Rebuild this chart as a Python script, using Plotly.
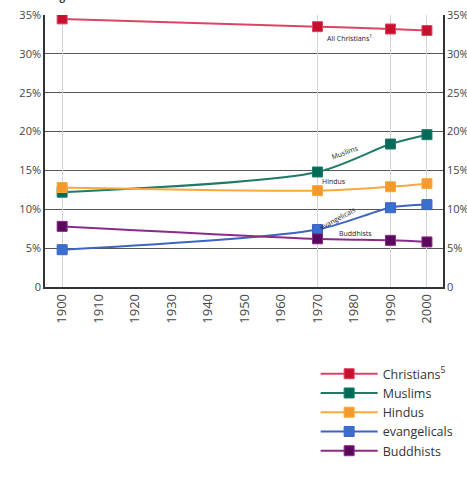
import plotly.graph_objects as go

years = [1900, 1970, 1990, 2000]
christians = [34.5, 33.5, 33.2, 33.0]
muslims = [12.2, 14.8, 18.4, 19.6]
hindus = [12.8, 12.4, 12.9, 13.3]
evangelicals = [4.8, 7.4, 10.2, 10.6]
buddhists = [7.8, 6.2, 6.0, 5.8]

series = [
    ("Christians<sup>5</sup>", christians, "#dc4466", "#c8102e"),
    ("Muslims", muslims, "#1f7a68", "#006b58"),
    ("Hindus", hindus, "#f7a940", "#f59a2a"),
    ("evangelicals", evangelicals, "#3f63c0", "#3a6fd0"),
    ("Buddhists", buddhists, "#8a2a8a", "#5a0a5a"),
]

tick_years = list(range(1900, 2001, 10))
y_ticks = [0, 5, 10, 15, 20, 25, 30, 35]
y_labels = ["0", "5%", "10%", "15%", "20%", "25%", "30%", "35%"]

font = "Open Sans, DejaVu Sans, sans-serif"
fig = go.Figure()
for name, vals, lc, mc in series:
    fig.add_trace(go.Scatter(
        x=years, y=vals, name=name, mode="lines+markers",
        line=dict(color=lc, width=2, shape="spline", smoothing=0.8),
        marker=dict(symbol="square", size=10, color=mc, line=dict(color=lc, width=1)),
    ))
# invisible trace for right axis / vertical grid axis
fig.add_trace(go.Scatter(x=years, y=christians, xaxis="x2", yaxis="y2",
                         mode="markers", marker=dict(opacity=0), showlegend=False, hoverinfo="skip"))

labels = [
    ("All Christians<sup>1</sup>", 1978.8, 32.1, 0),
    ("Muslims", 1977.5, 17.3, -20),
    ("Hindus", 1974.5, 13.6, 0),
    ("evangelicals", 1975.5, 8.8, -28),
    ("Buddhists", 1980.5, 6.9, 0),
]
for t, x, y, a in labels:
    fig.add_annotation(x=x, y=y, text=t, showarrow=False, textangle=a,
                       font=dict(size=7, color="#222", family=font))

fig.add_annotation(x=0.01, y=1.0, xref="paper", yref="paper", yshift=10, text="<b>Figure 1</b>",
                   showarrow=False, xanchor="left", yanchor="bottom",
                   font=dict(size=10, color="#333", family=font))

fig.update_layout(
    template="none",
    width=467, height=477,
    margin=dict(l=45, r=24, t=15, b=190, autoexpand=False),
    plot_bgcolor="white", paper_bgcolor="white",
    font=dict(family=font, color="#444", size=11),
    xaxis=dict(range=[1895.3, 2004.4], tickvals=tick_years, ticktext=[str(v) for v in tick_years],
               tickangle=-90, showgrid=False, showline=True, linecolor="#333", linewidth=1.5,
               ticks="", tickfont=dict(size=13, color="#444"), zeroline=False, automargin=False),
    xaxis2=dict(range=[1895.3, 2004.4], overlaying="x", tickvals=years, showticklabels=False,
                showgrid=True, gridcolor="#d4d4d4", gridwidth=1, ticks="", zeroline=False,
                automargin=False),
    yaxis=dict(range=[0, 35], tickvals=y_ticks, ticktext=y_labels, showgrid=True,
               gridcolor="#555", gridwidth=1.2, showline=True, linecolor="#333", linewidth=1.5,
               ticks="", zeroline=False, tickfont=dict(size=11, color="#444"), automargin=False),
    yaxis2=dict(range=[0, 35], overlaying="y", side="right", tickvals=y_ticks, ticktext=y_labels,
                showgrid=False, showline=True, linecolor="#333", linewidth=1.5, ticks="",
                zeroline=False, tickfont=dict(size=11, color="#444"), automargin=False),
    legend=dict(x=0.68, y=-0.265, xanchor="left", yanchor="top", font=dict(size=12.5, color="#333"),
                tracegroupgap=0, itemwidth=57, bgcolor="rgba(0,0,0,0)"),
    showlegend=True,
)
fig.write_html("out.html", config={"displayModeBar": False},
               post_script="document.body.style.margin='0';document.body.style.overflow='hidden';")
